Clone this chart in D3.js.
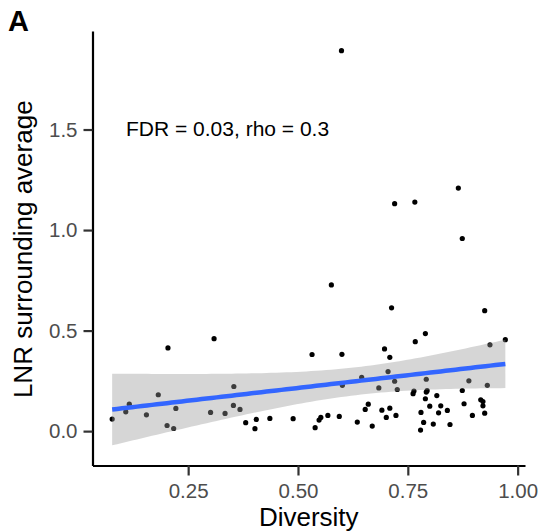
<!DOCTYPE html>
<html>
<head>
<meta charset="utf-8">
<script src="https://cdn.jsdelivr.net/npm/d3@7/dist/d3.min.js"></script>
<style>
  html, body { margin: 0; padding: 0; background: #fff; }
  svg { display: block; font-family: "Liberation Sans", Arial, Helvetica, sans-serif; }
</style>
</head>
<body>
<svg id="chart" width="540" height="531"></svg>
<script>
// ---- data ----
const diversity = [
  0.204, 0.309, 0.077, 0.108, 0.116, 0.155, 0.182, 0.202, 0.217, 0.222,
  0.301, 0.334, 0.354, 0.353, 0.368, 0.381, 0.402, 0.405, 0.436, 0.489,
  0.532, 0.600, 0.697, 0.709, 0.767, 0.790, 0.937, 0.972, 0.645, 0.601,
  0.705, 0.720, 0.684, 0.726, 0.792, 0.889, 0.931, 0.764, 0.762, 0.792,
  0.794, 0.816, 0.874, 0.790, 0.660, 0.653, 0.691, 0.709, 0.701, 0.723,
  0.635, 0.669, 0.594, 0.568, 0.552, 0.548, 0.539, 0.800, 0.825, 0.840,
  0.820, 0.780, 0.786, 0.779, 0.808, 0.846, 0.878, 0.897, 0.916, 0.921,
  0.921, 0.925, 0.865, 0.720, 0.766, 0.874, 0.576, 0.713, 0.925, 0.599
];
const lnr = [
  0.414, 0.460, 0.060, 0.096, 0.134, 0.081, 0.181, 0.028, 0.013, 0.113,
  0.093, 0.088, 0.222, 0.128, 0.108, 0.042, 0.012, 0.058, 0.063, 0.062,
  0.381, 0.382, 0.409, 0.367, 0.445, 0.485, 0.429, 0.455, 0.268, 0.228,
  0.296, 0.248, 0.215, 0.207, 0.258, 0.250, 0.228, 0.199, 0.186, 0.194,
  0.201, 0.177, 0.202, 0.161, 0.134, 0.108, 0.104, 0.114, 0.068, 0.078,
  0.045, 0.025, 0.073, 0.078, 0.068, 0.055, 0.017, 0.124, 0.126, 0.103,
  0.091, 0.093, 0.043, 0.005, 0.035, 0.033, 0.136, 0.078, 0.156, 0.147,
  0.126, 0.089, 1.209, 1.131, 1.139, 0.958, 0.727, 0.613, 0.599, 1.892
];
const xTicks = [0.25, 0.50, 0.75, 1.00];
const yTicks = [0.0, 0.5, 1.0, 1.5];
const annotation = "FDR = 0.03, rho = 0.3";
const xTitle = "Diversity";
const yTitle = "LNR surrounding average";
const panelLabel = "A";

// ---- layout ----
const svg = d3.select("#chart");
const pLeft = 92.5, pRight = 525, pTop = 31, pBottom = 465.5;

const points = diversity.map((d, i) => ({x: d, y: lnr[i]}));

// x domain with ggplot-style 5% expansion
const xExt = d3.extent(diversity);
const xr = xExt[1] - xExt[0];
const x = d3.scaleLinear().domain([xExt[0] - 0.05 * xr, xExt[1] + 0.05 * xr]).range([pLeft, pRight]);
const y = d3.scaleLinear().domain([-0.171, 1.99]).range([pBottom, pTop]);

// ---- linear model with 95% confidence band ----
const n = points.length;
const mx = d3.mean(diversity), my = d3.mean(lnr);
let sxx = 0, sxy = 0;
points.forEach(p => { sxx += (p.x - mx) ** 2; sxy += (p.x - mx) * (p.y - my); });
const slope = sxy / sxx, intercept = my - slope * mx;
let sse = 0;
points.forEach(p => { sse += (p.y - (intercept + slope * p.x)) ** 2; });
const s = Math.sqrt(sse / (n - 2));
const tq = 1.991; // t(0.975, df=78)
const grid = d3.range(80).map(i => xExt[0] + (xExt[1] - xExt[0]) * i / 79);
const fit = grid.map(g => {
  const f = intercept + slope * g;
  const se = s * Math.sqrt(1 / n + (g - mx) ** 2 / sxx);
  return {x: g, y: f, lo: f - tq * se, hi: f + tq * se};
});

// ---- points ----
svg.append("g").selectAll("circle").data(points).join("circle")
  .attr("cx", d => x(d.x)).attr("cy", d => y(d.y)).attr("r", 2.6)
  .attr("fill", "#000");

// ---- band + line ----
svg.append("path").datum(fit)
  .attr("d", d3.area().x(d => x(d.x)).y0(d => y(d.lo)).y1(d => y(d.hi)))
  .attr("fill", "#999999").attr("fill-opacity", 0.4);
svg.append("path").datum(fit)
  .attr("d", d3.line().x(d => x(d.x)).y(d => y(d.y)))
  .attr("fill", "none").attr("stroke", "#3366FF").attr("stroke-width", 4.5);

// ---- axes ----
const xAxis = svg.append("g").attr("transform", `translate(0,${pBottom})`)
  .call(d3.axisBottom(x).tickValues(xTicks).tickFormat(d3.format(".2f")).tickSize(10).tickSizeOuter(0).tickPadding(8));
const yAxis = svg.append("g").attr("transform", `translate(${pLeft},0)`)
  .call(d3.axisLeft(y).tickValues(yTicks).tickFormat(d3.format(".1f")).tickSize(9).tickSizeOuter(0).tickPadding(6));
[xAxis, yAxis].forEach(a => {
  a.select(".domain").attr("stroke", "#000").attr("stroke-width", 2.2);
  a.selectAll(".tick line").attr("stroke", "#333").attr("stroke-width", 2.2);
  a.selectAll(".tick text").attr("fill", "#4d4d4d").style("font-size", "20.5px")
    .style("font-family", '"Liberation Sans", Arial, sans-serif');
});

// ---- titles ----
svg.append("text").attr("x", (pLeft + pRight) / 2).attr("y", 526)
  .attr("text-anchor", "middle").style("font-size", "26px").attr("fill", "#000").text(xTitle);
svg.append("text").attr("transform", `translate(31.5,${(pTop + pBottom) / 2 + 1}) rotate(-90)`)
  .attr("text-anchor", "middle").style("font-size", "26px").attr("fill", "#000").text(yTitle);

// ---- annotation ----
svg.append("text").attr("x", 126).attr("y", y(1.5) + 6.5)
  .style("font-size", "21px").attr("fill", "#000").text(annotation);

// ---- panel label ----
svg.append("text").attr("x", 8).attr("y", 31)
  .style("font-size", "29px").style("font-weight", "bold").attr("fill", "#000").text(panelLabel);
</script>
</body>
</html>
